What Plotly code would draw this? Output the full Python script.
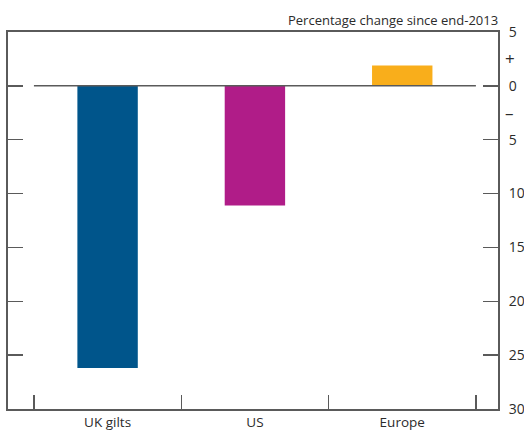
import plotly.graph_objects as go

categories = ["UK gilts", "US", "Europe"]
values = [-26.2, -11.1, 1.9]
colors = ["#00558B", "#B01C88", "#F9AE1B"]
ytick_vals = [5, 0, -5, -10, -15, -20, -25, -30]
ytick_text = ["5", "0", "5", "10", "15", "20", "25", "30"]
title_text = "Percentage change since end-2013"

axis_col = "#5a5a5a"
txt_col = "#2b2b2b"
font_family = "Open Sans, Noto Sans, sans-serif"

fig = go.Figure()
fig.add_trace(go.Bar(x=categories, y=values, marker=dict(color=colors, line=dict(width=0)),
                     width=0.41, showlegend=False, hoverinfo="skip"))

fig.update_layout(
    width=524, height=432,
    margin=dict(l=8, r=26, t=32, b=23, autoexpand=False),
    paper_bgcolor="white", plot_bgcolor="white",
    font=dict(family=font_family, size=13, color=txt_col),
    bargap=0.59,
)
fig.update_xaxes(
    type="category", range=[-0.676, 2.65], automargin=False,
    showline=True, linecolor=axis_col, linewidth=2, mirror=True,
    ticks="inside", tickson="boundaries", ticklen=14, tickcolor=axis_col, tickwidth=1.5,
    showgrid=False, zeroline=False, tickfont=dict(size=13.5, color=txt_col),
)
fig.update_yaxes(
    range=[-30, 5], side="right", automargin=False,
    tickvals=ytick_vals, ticktext=ytick_text,
    showline=True, linecolor=axis_col, linewidth=2, mirror="ticks",
    ticks="inside", ticklen=15, tickcolor=axis_col, tickwidth=1.5,
    ticklabelstandoff=6,
    showgrid=False, zeroline=False, tickfont=dict(size=14, color=txt_col),
)
fig.add_shape(type="line", xref="x", yref="y", x0=-0.5, x1=2.5, y0=0, y1=0,
              line=dict(color=axis_col, width=1.5), layer="above")
for yv, s in [(2.5, "+"), (-2.5, "–")]:
    fig.add_annotation(x=1, xref="paper", xanchor="left", xshift=5, y=yv, yref="y",
                       text=s, showarrow=False, font=dict(size=17, color=txt_col))
fig.add_annotation(x=1, xref="paper", xanchor="right", y=1, yref="paper", yanchor="bottom",
                   xshift=2, yshift=1, text=title_text, showarrow=False,
                   font=dict(size=13, color=txt_col))

fig.write_html("out.html", config={"displayModeBar": False, "staticPlot": True},
               post_script="document.body.style.margin='0';document.body.style.padding='0';document.body.style.overflow='hidden';")
